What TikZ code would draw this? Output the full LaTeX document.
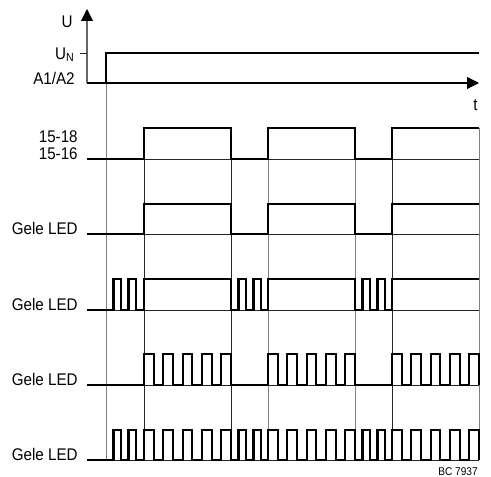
\documentclass[tikz,border=0pt]{standalone}
\usepackage{fontspec}
\setmainfont[FakeStretch=0.9]{Liberation Sans}
\usetikzlibrary{arrows.meta}

\begin{document}
\begin{tikzpicture}[x=0.02cm,y=-0.02cm,
  every node/.style={font=\fontsize{9.6}{11}\selectfont,inner sep=0pt},
  lbl/.style={anchor=base east},
  sig/.style={line width=1.3pt,line join=miter},
  base/.style={line width=0.5pt,black!85},
  grid/.style={line width=0.5pt,black!50},
  gridd/.style={line width=0.5pt,black!85},
  axis/.style={line width=0.6pt,-{Triangle[length=6.8pt,width=6.8pt,color=black]}}]

  \useasboundingbox (0,0) rectangle (491,477);

  % Axes
  \coordinate (o) at (87,83);
  \coordinate (utip) at (87,9);
  \coordinate (ttip) at (479,83);
  \draw[axis,black!60] (o) -- (utip);
  \draw[axis] (o) -- (ttip);
  \draw[base] (80,53) -- (87,53);
  \node[lbl] (u) at (73,27) {U};
  \node[lbl] (un) at (75,59) {U\textsubscript{N}};
  \node[lbl] (a1a2) at (75,84) {A1/A2};
  \node[lbl] (t) at (478,110) {t};

  % Time marks
  \draw[grid] (106,83) -- (106,460);
  \foreach \x in {268,355,479} \draw[grid] (\x,128) -- (\x,460);
  \foreach \x in {144,231,392} \draw[gridd] (\x,128) -- (\x,460);

  % Base lines
  \foreach \y in {159,234,310,385,460} \draw[base] (87,\y) -- (479,\y);

  % Supply voltage
  \draw[sig] (87,83) -- (106,83) -- (106,53) -- (479,53);

  % Relay contact
  \node[lbl] (c18) at (78,142) {15-18};
  \node[lbl] (c16) at (78,159) {15-16};
  \draw[sig] (87,159) -| (144,128) -| (231,159) -| (268,128) -| (355,159) -| (392,128) -- (479,128);

  % LED 1: steady
  \node[lbl] (led1) at (78,234) {Gele LED};
  \draw[sig] (87,234) -| (144,204) -| (231,234) -| (268,204) -| (355,234) -| (392,204) -- (479,204);

  % LED 2: flashing while off
  \node[lbl] (led2) at (78,310) {Gele LED};
  \draw[sig] (87,310) \foreach \s/\e in {106/144,231/268,355/392}{
      -| (\s,310) -- ++(7.5,0) -- ++(0,-31) -- ++(7.5,0) -- ++(0,31)
      -- ++(7.5,0) -- ++(0,-31) -- ++(7.5,0) -- ++(0,31) -| (\e,279)}
    -- (479,279);

  % LED 3: flashing while on
  \node[lbl] (led3) at (78,385) {Gele LED};
  \draw[sig] (87,385) \foreach \s in {144,268,392}{
      -- (\s,385) \foreach \k in {0,2,4,6,8}{
        -- ({\s+\k*87/9},385) -- ({\s+\k*87/9},354)
        -- ({\s+(\k+1)*87/9},354) -- ({\s+(\k+1)*87/9},385)}};

  % LED 4: flashing always
  \node[lbl] (led4) at (78,460) {Gele LED};
  \draw[sig] (87,460) \foreach \s/\e in {106/144,231/268,355/392}{
      -- (\s,460) -- ++(7.5,0) -- ++(0,-30) -- ++(7.5,0) -- ++(0,30)
      -- ++(7.5,0) -- ++(0,-30) -- ++(7.5,0) -- ++(0,30) -- (\e,460)
      \foreach \k in {0,2,4,6,8}{
        -- ({\e+\k*87/9},460) -- ({\e+\k*87/9},430)
        -- ({\e+(\k+1)*87/9},430) -- ({\e+(\k+1)*87/9},460)}};

  \node[lbl,font=\fontsize{6.4}{7}\selectfont] (bc) at (478,475) {BC 7937};

\end{tikzpicture}
\end{document}
